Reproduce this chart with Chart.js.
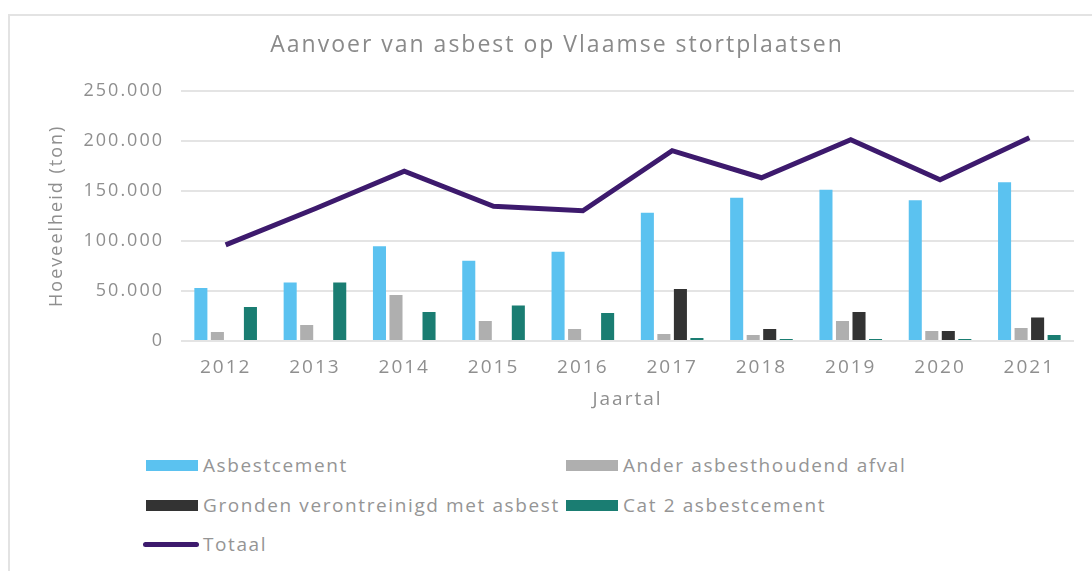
<!DOCTYPE html>
<html>
<head>
<meta charset="utf-8">
<script src="https://cdn.jsdelivr.net/npm/chart.js@4"></script>
<style>
    html, body { margin: 0; padding: 0; background: #fff; overflow: hidden; }
    #wrap { position: relative; width: 1092px; height: 571px; font-family: "Open Sans", sans-serif; }
    #frame { position: absolute; left: 8px; top: 14px; width: 1100px; height: 570px; border: 2px solid #e3e3e3; box-sizing: border-box; }
    #chartAsbest { position: absolute; left: 0; top: 0; }
    .legend-item { position: absolute; display: flex; align-items: center; height: 24px; color: #959595; font-size: 19px; letter-spacing: 1.6px; white-space: nowrap; }
    .legend-item .swatch { width: 52px; height: 11px; margin-right: 5px; }
    .legend-item .swatch.line { width: 56px; height: 5px; border-radius: 3px; margin-left: -3px; margin-right: 4px; }
</style>
</head>
<body>
<div id="wrap">
    <div id="frame"></div>
    <canvas id="chartAsbest" width="1092" height="430"></canvas>
    <div id="legend"></div>
</div>
<script>
// Data (ton)
const years = ["2012", "2013", "2014", "2015", "2016", "2017", "2018", "2019", "2020", "2021"];
const asbestcement = [53000, 58500, 94500, 80000, 89000, 128000, 143000, 151000, 140500, 158500];
const anderAfval = [9000, 16000, 46000, 20000, 12000, 7000, 6000, 20000, 10000, 13000];
const gronden = [null, null, null, null, null, 52000, 12000, 29000, 10000, 23500];
const cat2 = [34000, 58500, 29000, 35500, 28000, 3000, 2000, 2000, 2000, 6000];
const totaal = [96000, 132000, 169500, 134500, 130000, 190000, 163000, 201000, 161000, 203000];

const textColor = "#8f8f8f";
const gridColor = "#e4e4e4";

// Dutch thousands separator
const formatTon = value => value.toLocaleString("nl-BE");

// letter spacing on the canvas text (resize resets the context state)
const spacingPlugin = {
    id: "spacing",
    beforeUpdate: chart => { chart.ctx.letterSpacing = "2px"; },
    beforeDraw: chart => { chart.ctx.letterSpacing = "2px"; }
};

const barDataset = (label, data, color) => ({
    type: "bar",
    label: label,
    data: data,
    backgroundColor: color,
    borderWidth: 0,
    categoryPercentage: 0.74,
    barPercentage: 0.79,
    order: 1
});

const datasets = [
    barDataset("Asbestcement", asbestcement, "#5bc2f0"),
    barDataset("Ander asbesthoudend afval", anderAfval, "#afafaf"),
    barDataset("Gronden verontreinigd met asbest", gronden, "#333333"),
    barDataset("Cat 2 asbestcement", cat2, "#1a7d72"),
    {
        type: "line",
        label: "Totaal",
        data: totaal,
        borderColor: "#3d1a6d",
        borderWidth: 5,
        pointRadius: 0,
        tension: 0,
        fill: false,
        order: 0
    }
];

const chartAsbest = new Chart(document.getElementById("chartAsbest"), {
    data: {
        labels: years,
        datasets: datasets
    },
    options: {
        responsive: false,
        animation: false,
        layout: { padding: { left: 40, right: 18, top: 0, bottom: 0 } },
        plugins: {
            legend: { display: false },
            tooltip: { enabled: false },
            title: {
                display: true,
                text: "Aanvoer van asbest op Vlaamse stortplaatsen",
                color: "#8a8a8a",
                font: { family: "Open Sans", size: 23, weight: "normal", lineHeight: 1.2 },
                padding: { top: 32, bottom: 31 }
            }
        },
        scales: {
            x: {
                grid: { display: false, drawTicks: false },
                border: { display: false },
                ticks: {
                    color: textColor,
                    padding: 15,
                    font: { family: "Open Sans", size: 19 }
                },
                title: {
                    display: true,
                    text: "Jaartal",
                    color: textColor,
                    font: { family: "Open Sans", size: 19, lineHeight: 1.2 },
                    padding: { top: 0, bottom: 19 }
                },
                afterFit: scale => { scale.height = 89; }
            },
            y: {
                min: 0,
                max: 250000,
                grid: { color: gridColor, lineWidth: 2, drawTicks: false },
                border: { display: false },
                ticks: {
                    stepSize: 50000,
                    color: textColor,
                    padding: 17,
                    font: { family: "Open Sans", size: 18 },
                    callback: value => formatTon(value)
                },
                title: {
                    display: true,
                    text: "Hoeveelheid (ton)",
                    color: textColor,
                    font: { family: "Open Sans", size: 18, lineHeight: 1.2 },
                    padding: { top: 6, bottom: 0 }
                },
                afterFit: scale => { scale.width = 141; }
            }
        }
    },
    plugins: [spacingPlugin]
});

// HTML legend in two columns, built from the chart datasets
const legendPos = [
    { left: 146, top: 453 },
    { left: 566, top: 453 },
    { left: 146, top: 493 },
    { left: 566, top: 493 },
    { left: 146, top: 532 }
];
const legendBox = document.getElementById("legend");
chartAsbest.data.datasets.forEach((dataset, i) => {
    const item = document.createElement("div");
    item.className = "legend-item";
    item.style.left = legendPos[i].left + "px";
    item.style.top = legendPos[i].top + "px";
    const swatch = document.createElement("span");
    swatch.className = dataset.type === "line" ? "swatch line" : "swatch";
    swatch.style.background = dataset.type === "line" ? dataset.borderColor : dataset.backgroundColor;
    item.appendChild(swatch);
    item.appendChild(document.createTextNode(dataset.label));
    legendBox.appendChild(item);
});
</script>
</body>
</html>
